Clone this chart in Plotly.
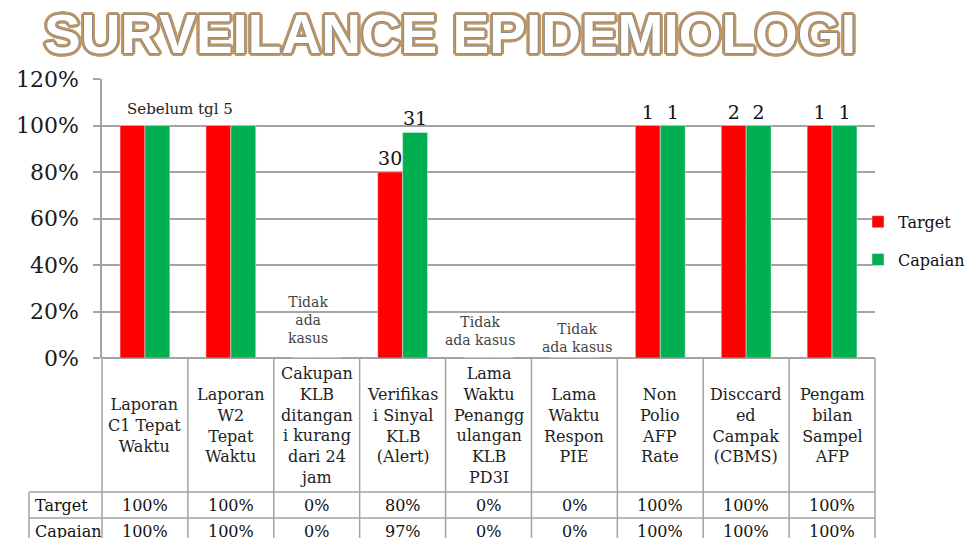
import plotly.graph_objects as go

categories = [
    "Laporan<br>C1 Tepat<br>Waktu",
    "Laporan<br>W2<br>Tepat<br>Waktu",
    "Cakupan<br>KLB<br>ditangan<br>i kurang<br>dari 24<br>jam",
    "Verifikas<br>i Sinyal<br>KLB<br>(Alert)",
    "Lama<br>Waktu<br>Penangg<br>ulangan<br>KLB<br>PD3I",
    "Lama<br>Waktu<br>Respon<br>PIE",
    "Non<br>Polio<br>AFP<br>Rate",
    "Disccard<br>ed<br>Campak<br>(CBMS)",
    "Pengam<br>bilan<br>Sampel<br>AFP",
]
target = [1.00, 1.00, 0.00, 0.80, 0.00, 0.00, 1.00, 1.00, 1.00]
capaian = [1.00, 1.00, 0.00, 0.97, 0.00, 0.00, 1.00, 1.00, 1.00]
target_labels = ["", "", "", "30", "", "", "1", "2", "1"]
capaian_labels = ["", "", "", "31", "", "", "1", "2", "1"]
notes = {0: "Sebelum tgl 5", 2: "Tidak<br>ada<br>kasus", 4: "Tidak<br>ada kasus", 5: "Tidak<br>ada kasus"}
row_names = ["Target", "Capaian"]

SERIF = "DejaVu Serif"
RED = "#FF0000"
GREEN = "#00B050"
GRID = "#a3a3a3"

fig = go.Figure()
fig.add_trace(go.Bar(
    x=categories, y=target, name="Target", marker_color=RED,
    text=target_labels, textposition="outside", cliponaxis=False,
    textfont=dict(family=SERIF, size=19, color="#111"), legendgroup="t",
))
fig.add_trace(go.Bar(
    x=categories, y=capaian, name="Capaian", marker_color=GREEN,
    text=capaian_labels, textposition="outside", cliponaxis=False,
    textfont=dict(family=SERIF, size=19, color="#111"), legendgroup="c",
))

# plot-area dimensions (px) for converting table rows to paper coords
PLOT_H = 279.0
PLOT_W = 773.0
def py(px_below):  # pixels below the x axis -> paper y
    return -px_below / PLOT_H
def pxd(px_left):  # pixels relative to plot left -> x domain
    return px_left / PLOT_W

annotations = []
# category header labels
for c in categories:
    annotations.append(dict(x=c, xref="x", y=py(67), yref="paper", text=c,
                            showarrow=False, yanchor="middle", align="center",
                            font=dict(family=SERIF, size=16, color="#222")))
# table rows
for r, (name, vals) in enumerate(zip(row_names, [target, capaian])):
    yy = py(147 + 26 * r)
    annotations.append(dict(x=pxd(-69), xref="x domain", y=yy, yref="paper", text=name,
                            showarrow=False, xanchor="left", yanchor="middle",
                            font=dict(family=SERIF, size=16, color="#111")))
    for c, v in zip(categories, vals):
        annotations.append(dict(x=c, xref="x", y=yy, yref="paper", text=f"{v:.0%}",
                                showarrow=False, yanchor="middle",
                                font=dict(family=SERIF, size=16, color="#111")))
# notes
annotations.append(dict(x=categories[0], xref="x", xshift=35, y=1.0, yref="y",
                        yshift=6, text=notes[0], showarrow=False, yanchor="bottom",
                        font=dict(family=SERIF, size=15, color="#222")))
for i, dx, yc in [(2, -9, 0.165), (4, -9, 0.115), (5, 3, 0.085)]:
    annotations.append(dict(x=categories[i], xref="x", xshift=dx, y=yc, yref="y",
                            text=notes[i], showarrow=False, yanchor="middle", align="center",
                            font=dict(family=SERIF, size=14, color="#444")))

shapes = []
n = len(categories)
LINE = dict(color=GRID, width=1.5)
bottom = py(200)
for i in range(n + 1):
    shapes.append(dict(type="line", xref="x domain", yref="paper", x0=i / n, x1=i / n,
                       y0=0, y1=bottom, line=LINE))
for yb in [py(134), py(160)]:
    shapes.append(dict(type="line", xref="x domain", yref="paper", x0=pxd(-73), x1=1,
                       y0=yb, y1=yb, line=LINE))
shapes.append(dict(type="line", xref="x domain", yref="paper", x0=pxd(-73), x1=pxd(-73),
                   y0=py(134), y1=bottom, line=LINE))

outline = ", ".join(
    [f"{dx}px {dy}px 0 #8a8a8a" for dx, dy in [(1, 0), (-1, 0), (0, 1), (0, -1)]]
    + [f"{dx}px {dy}px 0 #c09663" for dx, dy in
       [(3, 0), (-3, 0), (0, 3), (0, -3), (2, 2), (-2, -2), (2, -2), (-2, 2),
        (3, 1), (-3, 1), (3, -1), (-3, -1), (1, 3), (-1, 3), (1, -3), (-1, -3)]]
)

W, H = 968, 538
fig.update_layout(
    width=W, height=H,
    margin=dict(l=102, r=W - 102 - 773, t=79, b=H - 79 - 279, autoexpand=False),
    paper_bgcolor="white", plot_bgcolor="white",
    barmode="group", bargap=0.42, bargroupgap=0,
    title=dict(text="SURVEILANCE EPIDEMIOLOGI", x=450 / W, xanchor="center",
               xref="container", y=1 - 34 / H, yanchor="middle", yref="container",
               font=dict(family="Liberation Sans", size=55, weight="bold", color="white",
                         shadow=outline)),
    legend=dict(x=0.978, xanchor="left", y=0.42, yanchor="middle", traceorder="grouped",
                tracegroupgap=14, font=dict(family=SERIF, size=16, color="#111"),
                bgcolor="rgba(0,0,0,0)"),
    xaxis=dict(showticklabels=False, showgrid=False, showline=False, ticks="",
               range=[-0.5, n - 0.5], fixedrange=True, automargin=False),
    yaxis=dict(range=[0, 1.2], dtick=0.2, tickformat=".0%", showgrid=True,
               gridcolor=GRID, gridwidth=1.5, showline=True, linecolor=GRID, linewidth=1.5,
               ticks="outside", ticklen=7, tickcolor=GRID, tickwidth=1.5,
               zeroline=True, zerolinecolor=GRID, zerolinewidth=1.5,
               ticklabelstandoff=10, automargin=False,
               tickfont=dict(family=SERIF, size=22, color="#1a1a1a")),
    annotations=annotations,
    shapes=shapes,
)

fig.write_html("out.html", config={"displayModeBar": False},
               post_script="document.body.style.margin='0';document.body.style.overflow='hidden';")
